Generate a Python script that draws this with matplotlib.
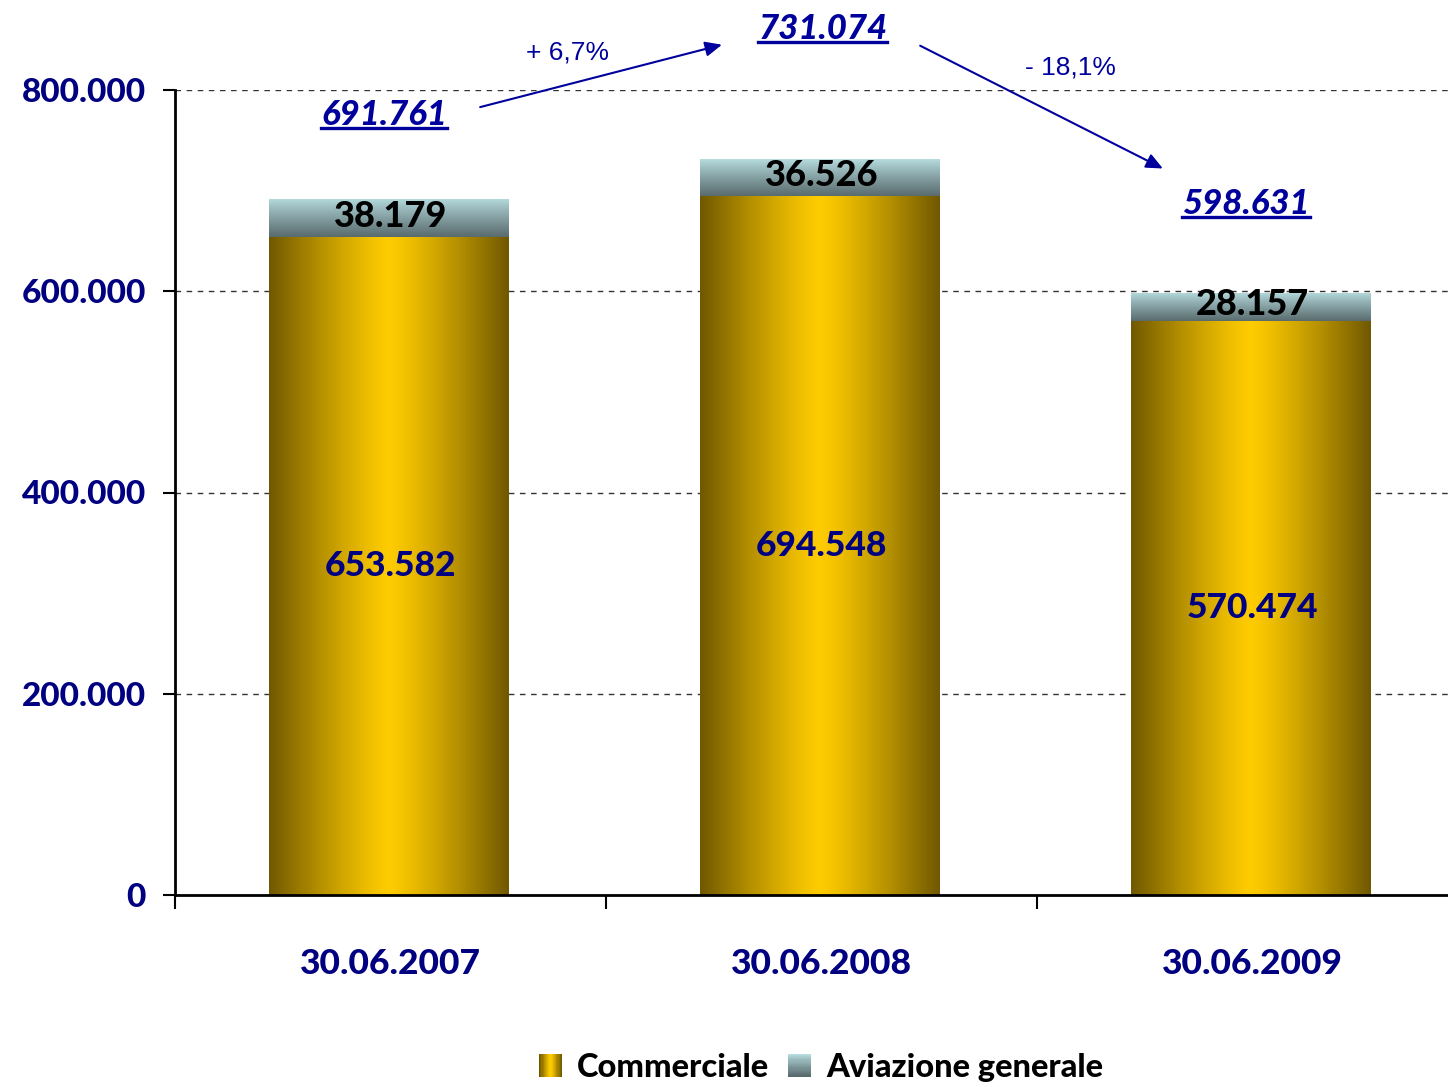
import numpy as np
import matplotlib
matplotlib.use("Agg")
import matplotlib.pyplot as plt
from matplotlib.patches import Rectangle
from matplotlib.legend_handler import HandlerBase
from matplotlib.lines import Line2D

# ---- data ----
categories = ["30.06.2007", "30.06.2008", "30.06.2009"]
commerciale = [653582, 694548, 570474]
aviazione = [38179, 36526, 28157]
totals = [691761, 731074, 598631]
totals_labels = ["691.761", "731.074", "598.631"]
comm_labels = ["653.582", "694.548", "570.474"]
avia_labels = ["38.179", "36.526", "28.157"]
changes = ["+ 6,7%", "- 18,1%"]
yticks = [0, 200000, 400000, 600000, 800000]
ytick_labels = ["0", "200.000", "400.000", "600.000", "800.000"]
series_names = ["Commerciale", "Aviazione generale"]

NAVY = "#000080"
BLUE = "#00009C"
FONT = "Lato"
WT = 900

W, H = 1448, 1087
fig = plt.figure(figsize=(W / 100, H / 100), dpi=100)
ax = fig.add_axes([175 / W, 1 - 895 / H, (1468 - 175) / W, (895 - 90) / H])

x = np.arange(len(categories))
bw = 0.556

# gradients
def yellow_grad(n=256):
    t = np.abs(np.linspace(-1, 1, n))
    t = t ** 1.2
    bright = np.array([1.0, 0.80, 0.0])
    dark = np.array([0.44, 0.345, 0.0])
    c = bright[None, :] * (1 - t[:, None]) + dark[None, :] * t[:, None]
    return c[None, :, :]

def grey_grad(n=256):
    t = np.linspace(0, 1, n)  # 0 top -> 1 bottom
    top = np.array([0.72, 0.87, 0.88])
    bot = np.array([0.35, 0.42, 0.43])
    tt = t ** 0.9
    c = top[None, :] * (1 - tt[:, None]) + bot[None, :] * tt[:, None]
    return c[:, None, :]

bars_c = ax.bar(x - 0.005, commerciale, bw, color="none", edgecolor="none", zorder=2)
bars_a = ax.bar(x - 0.005, aviazione, bw, bottom=commerciale, color="none", edgecolor="none", zorder=2)

for b in bars_c:
    x0, y0, w_, h_ = b.get_x(), b.get_y(), b.get_width(), b.get_height()
    im = ax.imshow(yellow_grad(), extent=[x0, x0 + w_, y0, y0 + h_], aspect="auto",
                   zorder=2, interpolation="bilinear")
    im.set_clip_path(b)
for b in bars_a:
    x0, y0, w_, h_ = b.get_x(), b.get_y(), b.get_width(), b.get_height()
    im = ax.imshow(grey_grad(), extent=[x0, x0 + w_, y0, y0 + h_], aspect="auto",
                   zorder=2, interpolation="bilinear")
    im.set_clip_path(b)

ax.set_xlim(-0.5, 2.5)
ax.set_ylim(0, 800000)

# grid
ax.set_yticks(yticks)
ax.set_yticklabels(ytick_labels)
ax.yaxis.grid(True, linestyle=(0, (4, 4)), color="#333333", linewidth=1.0, zorder=0)
ax.set_axisbelow(True)
ax.tick_params(axis="y", direction="out", length=9, width=1.5, pad=12,
               labelsize=24, labelcolor=NAVY)
for lab in ax.get_yticklabels():
    lab.set_fontfamily(FONT)
    lab.set_fontweight(WT)

ax.set_xticks([0.5 - 1, 0.5, 1.5])
ax.set_xticklabels([])
ax.set_xticks(x, minor=True)
ax.set_xticklabels(categories, minor=True)
ax.tick_params(axis="x", which="major", direction="out", length=10, width=1.5)
ax.tick_params(axis="x", which="minor", length=0, pad=38, labelsize=25.5, labelcolor=NAVY)
for lab in ax.get_xticklabels(minor=True):
    lab.set_fontfamily(FONT)
    lab.set_fontweight(WT)

for s in ["top", "right"]:
    ax.spines[s].set_visible(False)
ax.spines["left"].set_linewidth(2)
ax.spines["bottom"].set_linewidth(2)
ax.spines["left"].set_zorder(3)
ax.spines["bottom"].set_zorder(3)

# inside labels
for i in range(len(categories)):
    ax.text(x[i], commerciale[i] / 2, comm_labels[i], ha="center", va="center",
            fontsize=25.5, fontweight=WT, color=NAVY, family=FONT, zorder=4)
    ax.text(x[i], commerciale[i] + aviazione[i] / 2 + 2000, avia_labels[i], ha="center",
            va="center", fontsize=26, fontweight=WT, color="black", family=FONT, zorder=4)

# totals (underlined, italic)
total_pos = [(-0.015, 775000), (1.003, 861000), (1.985, 687000)]
total_texts = []
for (tx, ty), lab in zip(total_pos, totals_labels):
    t = ax.text(tx, ty, lab, ha="center", va="center", fontsize=25, fontweight=WT,
                fontstyle="italic", color=BLUE, family=FONT, clip_on=False, zorder=5)
    total_texts.append(t)

# change labels
ax.text(0.41, 837000, changes[0], ha="center", va="center", fontsize=19,
        color=BLUE, family="Liberation Sans", clip_on=False)
ax.text(1.577, 822000, changes[1], ha="center", va="center", fontsize=19,
        color=BLUE, family="Liberation Sans", clip_on=False)

# arrows
arrowprops = dict(arrowstyle="-|>,head_length=1.0,head_width=0.45", color=BLUE,
                  lw=1.5, shrinkA=0, shrinkB=0)
ax.annotate("", xy=(0.769, 845000), xytext=(0.208, 783000), arrowprops=arrowprops,
            annotation_clip=False)
ax.annotate("", xy=(1.792, 722000), xytext=(1.229, 844000), arrowprops=arrowprops,
            annotation_clip=False)

# legend with gradient squares
class GradHandler(HandlerBase):
    def __init__(self, kind):
        super().__init__()
        self.kind = kind

    def create_artists(self, legend, orig_handle, xdescent, ydescent, width, height,
                       fontsize, trans):
        size = height * 1.0
        x0 = -xdescent + width - size
        y0 = -ydescent + (height - size) / 2
        arts = []
        n = 20
        if self.kind == "h":
            cols = yellow_grad(n)[0]
            for k in range(n):
                arts.append(Rectangle((x0 + k * size / n, y0), size / n * 1.05, size,
                                      facecolor=cols[k], edgecolor="none", transform=trans))
        else:
            cols = grey_grad(n)[:, 0, :]
            for k in range(n):
                arts.append(Rectangle((x0, y0 + size - (k + 1) * size / n), size, size / n * 1.05,
                                      facecolor=cols[k], edgecolor="none", transform=trans))
        return arts

h1 = Line2D([], [])
h2 = Line2D([], [])
leg = fig.legend([h1, h2], series_names, loc="lower center", bbox_to_anchor=(0.567, -0.022),
                 ncol=2, frameon=False, handler_map={h1: GradHandler("h"), h2: GradHandler("v")},
                 prop={"family": FONT, "weight": WT, "size": 23.5},
                 handlelength=0.7, handletextpad=0.45, columnspacing=0.6)

# underlines
fig.canvas.draw()
r = fig.canvas.get_renderer()
inv = fig.transFigure.inverted()
for t in total_texts:
    bb = t.get_window_extent(renderer=r)
    (fx0, fy0) = inv.transform((bb.x0, bb.y0 + 3))
    (fx1, _) = inv.transform((bb.x1, bb.y0 + 3))
    fig.add_artist(Line2D([fx0, fx1], [fy0, fy0], color=BLUE, lw=2.4,
                          transform=fig.transFigure))

fig.savefig("out.png", dpi=100)
